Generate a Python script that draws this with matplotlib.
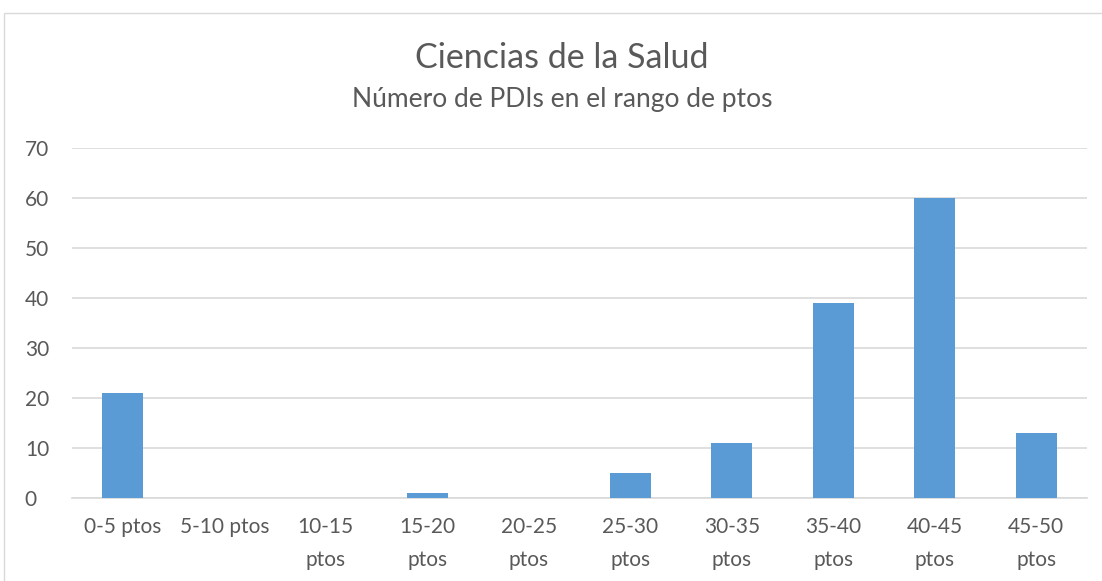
import matplotlib
matplotlib.use("Agg")
import matplotlib.pyplot as plt
from matplotlib.patches import Rectangle

categories = ["0-5 ptos", "5-10 ptos", "10-15\nptos", "15-20\nptos", "20-25\nptos",
              "25-30\nptos", "30-35\nptos", "35-40\nptos", "40-45\nptos", "45-50\nptos"]
values = [21, 0, 0, 1, 0, 5, 11, 39, 60, 13]
yticks = [0, 10, 20, 30, 40, 50, 60, 70]

plt.rcParams["font.family"] = ["Lato", "DejaVu Sans"]
text_color = "#595959"

fig = plt.figure(figsize=(11.02, 5.81), dpi=100)
# chart frame like the spreadsheet border
fig.patches.append(Rectangle((4 / 1102, -0.1), 1.2, 1 - 13 / 581 + 0.1, transform=fig.transFigure,
                             fill=False, edgecolor="#D9D9D9", linewidth=1))

ax = fig.add_axes([72 / 1102, 1 - 498 / 581, (1087 - 72) / 1102, 350 / 581])
x = range(len(categories))
ax.bar(x, values, width=0.4, color="#5B9BD5", zorder=3)
ax.set_xlim(-0.5, len(categories) - 0.5)
ax.set_ylim(0, 70)
ax.set_yticks(yticks)
ax.set_xticks(list(x))
ax.set_xticklabels(categories, fontsize=15, color=text_color, linespacing=1.8)
ax.tick_params(axis="y", labelsize=15, labelcolor=text_color, length=0, pad=34)
ax.tick_params(axis="x", length=0, pad=14)
ax.grid(axis="y", color="#D9D9D9", linewidth=1.2, zorder=0)
for s in ["top", "right", "left"]:
    ax.spines[s].set_visible(False)
ax.spines["bottom"].set_color("#D9D9D9")
ax.spines["bottom"].set_linewidth(1.2)
for lab in ax.get_yticklabels():
    lab.set_horizontalalignment("left")

fig.text(562 / 1102, 1 - 58 / 581, "Ciencias de la Salud", ha="center", va="center",
         fontsize=24.5, color=text_color)
fig.text(562 / 1102, 1 - 100 / 581, "Número de PDIs en el rango de ptos", ha="center", va="center",
         fontsize=19, color=text_color)

fig.savefig("out.png", dpi=100)
